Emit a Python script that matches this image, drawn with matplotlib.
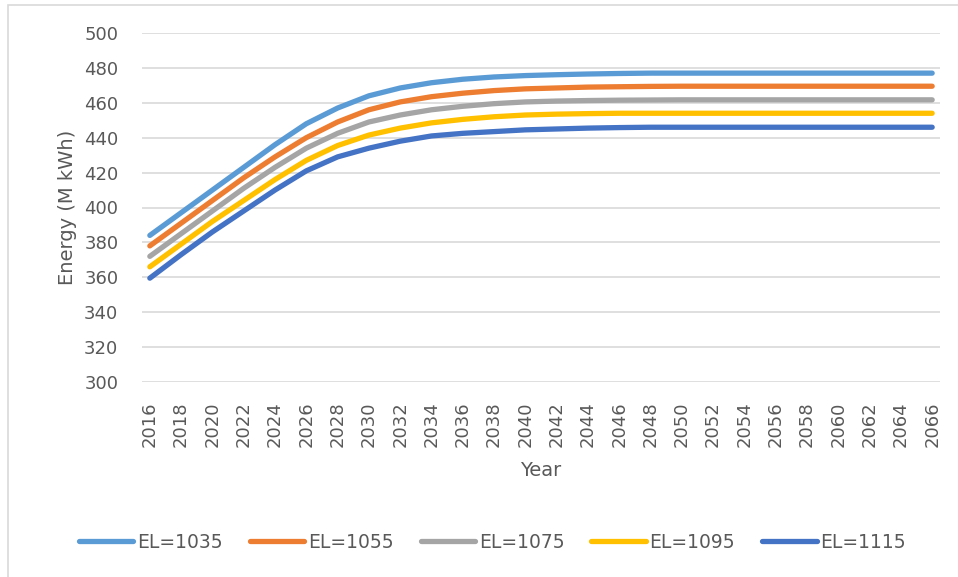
import matplotlib.pyplot as plt
from matplotlib.patches import Rectangle

years = list(range(2016, 2067, 2))

el_1035 = [384, 397, 410, 423, 436, 448, 457, 464, 468.5, 471.5, 473.5, 474.8, 475.6,
           476.1, 476.5, 476.8, 477, 477, 477, 477, 477, 477, 477, 477, 477, 477]
el_1055 = [378, 391, 404, 417, 429, 440, 449, 456, 460.5, 463.5, 465.5, 467, 468,
           468.5, 469, 469.2, 469.4, 469.5, 469.5, 469.5, 469.5, 469.5, 469.5, 469.5, 469.5, 469.5]
el_1075 = [372, 385, 398, 411, 423, 434, 442.5, 449, 453, 456, 458, 459.5, 460.5,
           461, 461.3, 461.5, 461.6, 461.7, 461.7, 461.7, 461.7, 461.7, 461.7, 461.7, 461.7, 461.7]
el_1095 = [366, 379, 392, 404, 416, 427, 435.5, 441.5, 445.5, 448.5, 450.5, 452, 453,
           453.5, 453.8, 454, 454, 454, 454, 454, 454, 454, 454, 454, 454, 454]
el_1115 = [359.5, 373, 386, 398, 410, 421, 429, 434, 438, 441, 442.5, 443.5, 444.5,
           445, 445.5, 445.8, 446, 446, 446, 446, 446, 446, 446, 446, 446, 446]

series = [("EL=1035", el_1035, "#5B9BD5"),
          ("EL=1055", el_1055, "#ED7D31"),
          ("EL=1075", el_1075, "#A5A5A5"),
          ("EL=1095", el_1095, "#FFC000"),
          ("EL=1115", el_1115, "#4472C4")]

text_color = "#595959"
grid_color = "#D9D9D9"

fig = plt.figure(figsize=(9.58, 5.77), dpi=100)
# chart area border
fig.patches.append(Rectangle((8/958, -0.05), 1.2, 1.05 - 5/577, transform=fig.transFigure,
                             fill=False, edgecolor=grid_color, linewidth=1.2))

ax = fig.add_axes([142/958, 1-382/577, 798/958, 349/577])
for name, vals, col in series:
    ax.plot(years, vals, color=col, linewidth=3.8, solid_capstyle="round", label=name)

ax.set_xlim(2015.5, 2066.5)
ax.set_ylim(300, 500)
ax.set_yticks(range(300, 501, 20))
ax.set_xticks(years)
ax.set_xticklabels([str(y) for y in years], rotation=90)
ax.grid(axis="y", color=grid_color, linewidth=1.2)
ax.set_axisbelow(True)
for s in ax.spines.values():
    s.set_visible(False)
ax.tick_params(length=0, labelsize=13, labelcolor=text_color)
ax.tick_params(axis="x", pad=14)
ax.tick_params(axis="y", pad=17)

ax.set_ylabel("Energy (M kWh)", fontsize=14, color=text_color, labelpad=5)
ax.set_xlabel("Year", fontsize=14, color=text_color, labelpad=10)

leg = fig.legend(loc="center", bbox_to_anchor=(0.514, 1-542/577), ncol=5, frameon=False,
                 handlelength=2.9, handletextpad=0.2, columnspacing=1.45,
                 prop={"size": 13.5})
for t in leg.get_texts():
    t.set_color(text_color)

fig.savefig("out.png", dpi=100)
